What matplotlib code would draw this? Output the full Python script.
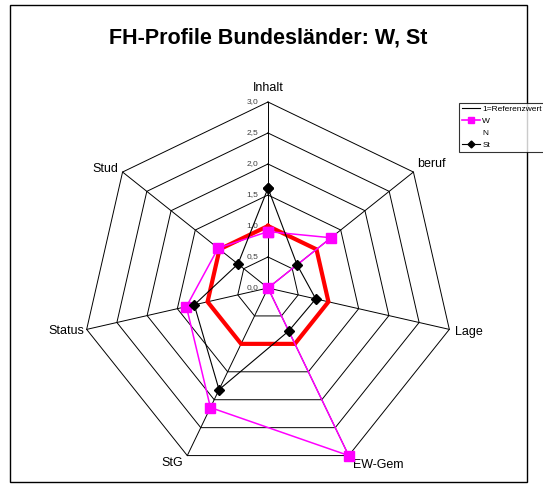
import numpy as np
import matplotlib
matplotlib.use("Agg")
import matplotlib.pyplot as plt
from matplotlib.lines import Line2D
from matplotlib.patches import Rectangle

plt.rcParams['font.family'] = ['Liberation Sans', 'DejaVu Sans']

categories = ["Inhalt", "beruf", "Lage", "EW-Gem", "StG", "Status", "Stud"]
ref_vals = [1.0, 1.0, 1.0, 1.0, 1.0, 1.0, 1.0]
w_vals = [0.91, 1.30, 0.0, 3.0, 2.14, 1.35, 1.03]
st_vals = [1.61, 0.60, 0.79, 0.77, 1.82, 1.22, 0.62]
rings = [0.0, 0.5, 1.0, 1.5, 2.0, 2.5, 3.0]
ring_labels = ["0,0", "0,5", "1,0", "1,5", "2,0", "2,5", "3,0"]

# label offsets from the outer vertex, in points (layout only)
lab_off = [(0, 10, 'center'), (3, 6, 'left'), (4, -2, 'left'), (3, -7, 'left'),
           (-3, -5, 'right'), (-2, -1, 'right'), (-3, 2, 'right')]

W, H = 543, 487
fig = plt.figure(figsize=(W / 100, H / 100), dpi=100)

# outer chart frame
fig.patches.append(Rectangle((10 / W, 1 - 482 / H), 517 / W, 477 / H,
                             transform=fig.transFigure, fill=False,
                             edgecolor='black', linewidth=1.0))

fig.text(268 / W, 1 - 38 / H, "FH-Profile Bundesländer: W, St",
         ha='center', va='center', fontsize=15.5, fontweight='bold')

# axes placed so that 1 unit = 62 px, centre at (268, 288)
ppu = 62.0
lim = 3.5
cx, cy = 268, 288
aw, ah = 2 * lim * ppu, 2 * lim * ppu
ax = fig.add_axes([(cx - aw / 2) / W, (H - cy - ah / 2) / H, aw / W, ah / H])
ax.set_xlim(-lim, lim)
ax.set_ylim(-lim, lim)
ax.axis('off')

n = len(categories)
theta = np.pi / 2 - 2 * np.pi * np.arange(n) / n


def xy(vals):
    v = np.asarray(vals, dtype=float)
    x = v * np.cos(theta)
    y = v * np.sin(theta)
    return np.append(x, x[0]), np.append(y, y[0])


# polygon grid
for r in rings[1:]:
    gx, gy = xy([r] * n)
    ax.plot(gx, gy, color='black', lw=0.7, zorder=1)
for t in theta:
    ax.plot([0, rings[-1] * np.cos(t)], [0, rings[-1] * np.sin(t)],
            color='black', lw=0.7, zorder=1)

for r, lab in zip(rings, ring_labels):
    ax.annotate(lab, (0, r), xytext=(-7, 0.5), textcoords='offset points',
                ha='right', va='center', fontsize=6, color='#404040')

for i, cat in enumerate(categories):
    dx, dy, ha = lab_off[i]
    ax.annotate(cat, (rings[-1] * np.cos(theta[i]), rings[-1] * np.sin(theta[i])),
                xytext=(dx, dy), textcoords='offset points',
                ha=ha, va='center', fontsize=9)

rx, ry = xy(ref_vals)
ax.plot(rx, ry, color='#ff0000', lw=3.0, zorder=2, solid_joinstyle='miter')
wx, wy = xy(w_vals)
ax.plot(wx, wy, color='#ff00ff', lw=1.1, marker='s', ms=7, mec='#ff00ff',
        mfc='#ff00ff', zorder=3, clip_on=False)
sx, sy = xy(st_vals)
ax.plot(sx, sy, color='black', lw=0.8, marker='D', ms=5.5, zorder=4, clip_on=False)

handles = [Line2D([], [], color='black', lw=0.8),
           Line2D([], [], color='#ff00ff', lw=1.2, marker='s', ms=4),
           Line2D([], [], color='none'),
           Line2D([], [], color='black', lw=0.8, marker='D', ms=3.5)]
labels = ["1=Referenzwert", "W", "N", "St"]
leg = fig.legend(handles, labels, loc='upper left',
                 bbox_to_anchor=(459 / W, 1 - 103 / H), fontsize=6,
                 frameon=True, fancybox=False, edgecolor='black',
                 borderpad=0.3, handlelength=2.2, handletextpad=0.3,
                 labelspacing=0.5, borderaxespad=0)
leg.get_frame().set_linewidth(0.8)

fig.savefig("out.png", dpi=100)
